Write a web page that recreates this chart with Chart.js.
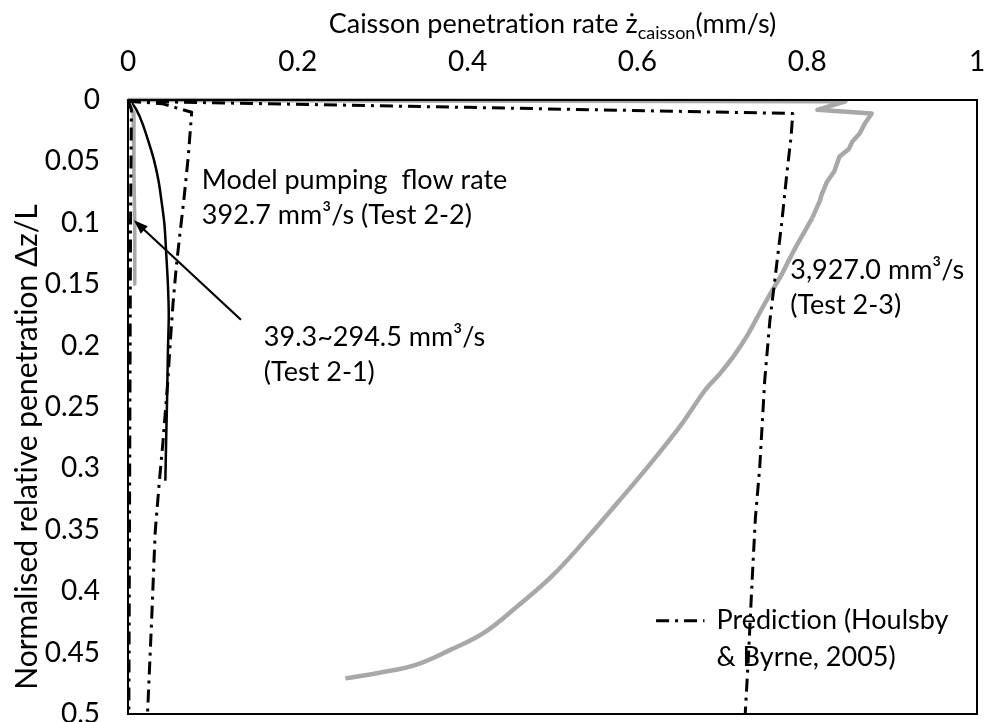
<!DOCTYPE html>
<html>
<head>
<meta charset="utf-8">
<script src="https://cdn.jsdelivr.net/npm/chart.js@4"></script>
<style>
  body { margin: 0; background: #fff; }
  canvas { display: block; }
</style>
</head>
<body>
<canvas id="chart" width="991" height="722"></canvas>
<script>
// caisson penetration rate (mm/s) against normalised penetration dz/L

// Test 2-1, 39.3~294.5 mm3/s
const rate21 = [0.001, 0.006, 0.007, 0.007, 0.008, 0.008, 0.008];
const depth21 = [0.000, 0.010, 0.030, 0.060, 0.100, 0.130, 0.150];

// Test 2-2, 392.7 mm3/s
const rate22 = [0.002, 0.010, 0.017, 0.026, 0.031, 0.036, 0.040, 0.043, 0.045, 0.047, 0.048, 0.047, 0.046, 0.045, 0.044];
const depth22 = [0.000, 0.008, 0.019, 0.038, 0.050, 0.066, 0.085, 0.102, 0.125, 0.150, 0.175, 0.205, 0.245, 0.275, 0.310];

// Test 2-3, 3927.0 mm3/s
const rate23 = [0.000, 0.845, 0.812, 0.876, 0.868, 0.862, 0.853, 0.849, 0.838, 0.832, 0.823, 0.817, 0.815, 0.806,
  0.797, 0.788, 0.778, 0.770, 0.758, 0.745, 0.730, 0.714, 0.697, 0.680, 0.665, 0.650, 0.619, 0.579, 0.539,
  0.499, 0.459, 0.419, 0.379, 0.339, 0.299, 0.256];
const depth23 = [0.000, 0.001, 0.008, 0.011, 0.019, 0.027, 0.034, 0.040, 0.046, 0.058, 0.067, 0.077, 0.082, 0.096,
  0.107, 0.118, 0.131, 0.142, 0.156, 0.172, 0.191, 0.208, 0.223, 0.236, 0.251, 0.266, 0.293, 0.326, 0.358,
  0.388, 0.412, 0.434, 0.448, 0.460, 0.466, 0.471];
const smoothFrom = 13; // below this point the trace is a smooth curve

// Houlsby & Byrne (2005) predictions for the three flow rates
const predRate21 = [0.000, 0.004, 0.003, 0.002, 0.001];
const predDepth21 = [0.000, 0.008, 0.100, 0.300, 0.500];
const predRate22 = [0.000, 0.040, 0.075, 0.071, 0.066, 0.061, 0.057, 0.053, 0.050, 0.047, 0.041, 0.037, 0.032, 0.028, 0.023];
const predDepth22 = [0.001, 0.003, 0.010, 0.046, 0.080, 0.110, 0.135, 0.166, 0.195, 0.228, 0.280, 0.310, 0.352, 0.421, 0.500];
const predRate23 = [0.000, 0.400, 0.783, 0.781, 0.776, 0.770, 0.763, 0.756, 0.750, 0.744, 0.739, 0.735, 0.731, 0.727];
const predDepth23 = [0.001, 0.006, 0.011, 0.030, 0.060, 0.100, 0.140, 0.180, 0.228, 0.300, 0.340, 0.393, 0.450, 0.500];

const xTicks = [0, 0.2, 0.4, 0.6, 0.8, 1];
const yTicks = [0, 0.05, 0.1, 0.15, 0.2, 0.25, 0.3, 0.35, 0.4, 0.45, 0.5];

const FONT = 'Lato';
const FS = 27;
const GREY = '#a8a8a8';
const DASHDOT = [13, 6, 3, 6];

// keep Lato from joining "ti" into one glyph
const plain = s => s.replace(/t(?=i)/g, 't\u200C');

const pts = (xs, ys) => xs.map((x, i) => ({ x: x, y: ys[i] }));

function series(xs, ys, color, width, dash, tension) {
  return {
    data: pts(xs, ys),
    showLine: true,
    borderColor: color,
    borderWidth: width,
    borderDash: dash || [],
    borderJoinStyle: 'round',
    pointRadius: 0,
    tension: tension || 0,
    clip: 4
  };
}

// labels placed in data units
const notes = [
  { lines: ['Model pumping  flow rate', '392.7 mm\u00b3/s (Test 2-2)'], x: 0.087, y: 0.065 },
  { lines: ['3,927.0 mm\u00b3/s', '(Test 2-3)'], x: 0.780, y: 0.1385 },
  { lines: ['39.3~294.5 mm\u00b3/s', '(Test 2-1)'], x: 0.160, y: 0.193 }
];
const arrow = { from: [0.133, 0.179], to: [0.007, 0.098] };
const legendKey = { x0: 0.622, x1: 0.679, y: 0.424, lines: ['Prediction (Houlsby', '& Byrne, 2005)'] };

const decorations = {
  id: 'decorations',
  afterDraw(chart) {
    const { ctx, chartArea: a, scales: { x, y } } = chart;
    ctx.save();

    // frame
    ctx.strokeStyle = '#000';
    ctx.lineWidth = 2;
    ctx.strokeRect(a.left, a.top, a.right - a.left, a.bottom - a.top);

    ctx.fillStyle = '#000';
    ctx.textBaseline = 'middle';
    ctx.textAlign = 'left';
    ctx.font = FS + 'px ' + FONT;
    notes.forEach(n => {
      const px = x.getPixelForValue(n.x), py = y.getPixelForValue(n.y);
      n.lines.forEach((t, i) => ctx.fillText(plain(t), px, py + i * 35));
    });

    // arrow to the Test 2-1 trace
    const ax0 = x.getPixelForValue(arrow.from[0]), ay0 = y.getPixelForValue(arrow.from[1]);
    const ax1 = x.getPixelForValue(arrow.to[0]), ay1 = y.getPixelForValue(arrow.to[1]);
    const ang = Math.atan2(ay1 - ay0, ax1 - ax0);
    ctx.lineWidth = 2.2;
    ctx.beginPath();
    ctx.moveTo(ax0, ay0);
    ctx.lineTo(ax1 - 8 * Math.cos(ang), ay1 - 8 * Math.sin(ang));
    ctx.stroke();
    ctx.beginPath();
    ctx.moveTo(ax1, ay1);
    ctx.lineTo(ax1 - 15 * Math.cos(ang - 0.35), ay1 - 15 * Math.sin(ang - 0.35));
    ctx.lineTo(ax1 - 15 * Math.cos(ang + 0.35), ay1 - 15 * Math.sin(ang + 0.35));
    ctx.closePath();
    ctx.fill();

    // legend entry
    const lx0 = x.getPixelForValue(legendKey.x0), lx1 = x.getPixelForValue(legendKey.x1);
    const ly = y.getPixelForValue(legendKey.y);
    ctx.lineWidth = 3;
    ctx.setLineDash(DASHDOT);
    ctx.beginPath();
    ctx.moveTo(lx0, ly);
    ctx.lineTo(lx1, ly);
    ctx.stroke();
    ctx.setLineDash([]);
    legendKey.lines.forEach((t, i) => ctx.fillText(plain(t), lx1 + 12, ly + i * 37));

    // x axis title with subscript
    const main1 = plain('Caisson penetration rate \u017c');
    const sub = 'caisson';
    const main2 = '(mm/s)';
    ctx.font = FS + 'px ' + FONT;
    const w1 = ctx.measureText(main1).width, w3 = ctx.measureText(main2).width;
    ctx.font = '18px ' + FONT;
    const w2 = ctx.measureText(sub).width;
    let tx = (a.left + a.right) / 2 - (w1 + w2 + w3) / 2;
    ctx.textBaseline = 'alphabetic';
    ctx.font = FS + 'px ' + FONT;
    ctx.fillText(main1, tx, 33);
    tx += w1;
    ctx.font = '18px ' + FONT;
    ctx.fillText(sub, tx, 39);
    tx += w2;
    ctx.font = FS + 'px ' + FONT;
    ctx.fillText(main2, tx, 33);

    // y axis title, baseline on the right-hand side once rotated
    ctx.translate(37, 447);
    ctx.rotate(-Math.PI / 2);
    ctx.textAlign = 'center';
    ctx.textBaseline = 'alphabetic';
    ctx.font = '30px ' + FONT;
    ctx.fillText(plain('Normalised relative penetration \u0394z/L'), 0, 0);

    ctx.restore();
  }
};

// fixed axis band sizes, no extra room for end labels
function fixBand(size) {
  return s => {
    if (s.isHorizontal()) s.height = size; else s.width = size;
    s.paddingTop = s.paddingBottom = s.paddingLeft = s.paddingRight = 0;
  };
}

const ctx = document.getElementById('chart').getContext('2d');
const chart = new Chart(ctx, {
  type: 'scatter',
  data: {
    datasets: [
      series(predRate21, predDepth21, '#000', 3, DASHDOT),
      series(predRate22, predDepth22, '#000', 3, DASHDOT),
      series(predRate23, predDepth23, '#000', 3, DASHDOT),
      series(rate21, depth21, GREY, 3.5),
      series(rate23.slice(0, smoothFrom + 1), depth23.slice(0, smoothFrom + 1), GREY, 4.5),
      series(rate23.slice(smoothFrom), depth23.slice(smoothFrom), GREY, 4.5, null, 0.4),
      series(rate22, depth22, '#000', 2.5, null, 0.3)
    ]
  },
  options: {
    responsive: false,
    animation: false,
    events: [],
    layout: { padding: { top: 0, left: 0, right: 14, bottom: 8 } },
    plugins: { legend: { display: false }, tooltip: { enabled: false } },
    scales: {
      x: {
        type: 'linear',
        position: 'top',
        min: 0,
        max: 1,
        afterBuildTicks: s => { s.ticks = xTicks.map(v => ({ value: v })); },
        afterFit: fixBand(100),
        ticks: {
          padding: 21,
          maxRotation: 0,
          color: '#000',
          font: { family: FONT, size: 28 },
          callback: v => String(v)
        },
        grid: { display: false, drawTicks: false },
        border: { display: false }
      },
      y: {
        type: 'linear',
        reverse: true,
        min: 0,
        max: 0.5,
        afterBuildTicks: s => { s.ticks = yTicks.map(v => ({ value: v })); },
        afterFit: fixBand(128),
        ticks: {
          padding: 28,
          color: '#000',
          font: { family: FONT, size: 28 },
          callback: v => String(+v.toFixed(2))
        },
        grid: { display: false, drawTicks: false },
        border: { display: false }
      }
    }
  },
  plugins: [decorations]
});
</script>
</body>
</html>
